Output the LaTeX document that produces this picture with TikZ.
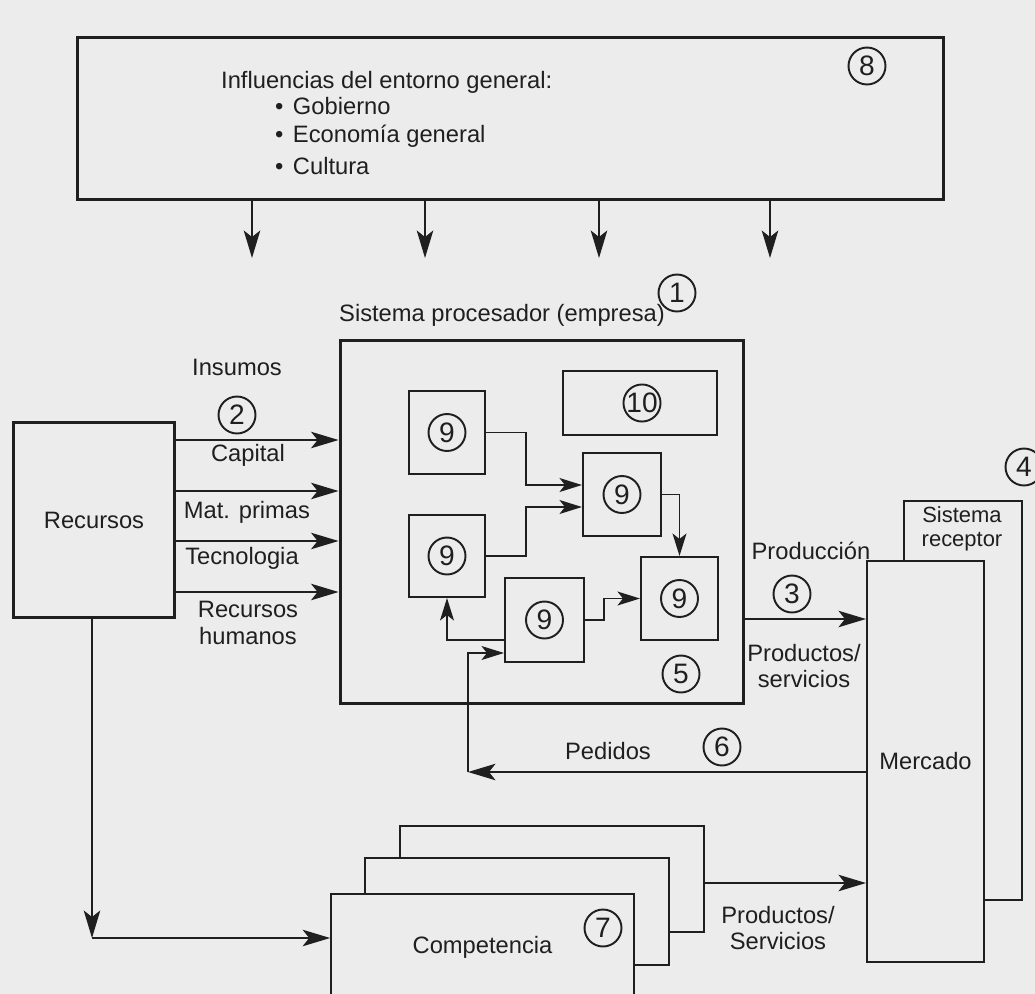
\documentclass[tikz,border=0pt]{standalone}
\usepackage{fontspec}
\setmainfont{Liberation Sans}
\usetikzlibrary{arrows.meta, calc}
\definecolor{paper}{gray}{0.925}
\definecolor{ink}{gray}{0.12}

\begin{document}
\begin{tikzpicture}[x=0.02cm, y=-0.02cm]
  \tikzset{
    every node/.style={font=\fontsize{13.5}{15}\selectfont, text=ink},
    bigbox/.style={draw=ink, line width=1.7pt, fill=paper, inner sep=0pt},
    subbox/.style={draw=ink, line width=1.2pt, fill=paper, inner sep=0pt},
    num/.style={circle, draw=ink, line width=1.1pt, fill=paper, minimum size=0.74cm, inner sep=0pt, font=\fontsize{16}{16}\selectfont},
    conn/.style={draw=ink, line width=0.9pt, -{Stealth[length=5.5mm, width=3.3mm, inset=1.3mm]}},
    inconn/.style={draw=ink, line width=0.8pt, -{Stealth[length=4.5mm, width=2.8mm, inset=1.1mm]}}
  }
  \useasboundingbox (0,0) rectangle (1035,994);
  \fill[paper] (0,0) rectangle (1035,994);

  % Entorno general
  \node[bigbox, minimum width=17.34cm, minimum height=3.26cm] (entorno) at (510.5,118.5) {};
  \node[anchor=west] (infl) at (215,82) {Influencias del entorno general:};
  \node[anchor=west] (gob) at (269,106) {\textbullet\hspace{0.4em}Gobierno};
  \node[anchor=west] (econ) at (269,136) {\textbullet\hspace{0.4em}Economía general};
  \node[anchor=west] (cult) at (269,166) {\textbullet\hspace{0.4em}Cultura};
  \node[num] (n8) at (867,66) {8};

  % Sistema procesador
  \node (sptitle) at (502,315) {Sistema procesador (empresa)};
  \node[num] (n1) at (677,293) {1};
  \node[bigbox, minimum width=8.08cm, minimum height=7.28cm] (proc) at (542,522) {};
  \node[subbox, minimum width=1.52cm, minimum height=1.66cm] (s9a) at (447,432.5) {};
  \node[subbox, minimum width=1.52cm, minimum height=1.64cm] (s9b) at (447,556) {};
  \node[subbox, minimum width=1.56cm, minimum height=1.66cm] (s9c) at (622,494.5) {};
  \node[subbox, minimum width=1.54cm, minimum height=1.66cm] (s9d) at (679.5,598.5) {};
  \node[subbox, minimum width=1.58cm, minimum height=1.68cm] (s9e) at (544.5,620) {};
  \foreach \b in {s9a,s9b,s9c,s9d,s9e}
    \node[num] (\b n) at (\b) {9};
  \node[subbox, minimum width=3.08cm, minimum height=1.28cm] (s10) at (640,403) {};
  \node[num] (s10n) at (642,403) {10};
  \node[num] (n5) at (681,674) {5};

  % Recursos
  \node[bigbox, minimum width=3.24cm, minimum height=3.92cm] (recursos) at (94,520) {Recursos};
  \node (insumos) at (237,367) {Insumos};
  \node[num] (n2) at (237,415) {2};
  \node (capital) at (248,455) {Capital};
  \node (matprim) at (247,512) {Mat. primas};
  \node (tecno) at (242,558) {Tecnologia};
  \node[align=center] (rrhh) at (248,623) {Recursos\\humanos};

  % Sistema receptor / mercado
  \node[subbox, minimum width=2.36cm, minimum height=7.98cm] (receptor) at (963,700.5) {};
  \node[align=center, font=\fontsize{12.5}{13.6}\selectfont] (receptorlbl) at (962,529) {Sistema\\receptor};
  \node[num] (n4) at (1024,467) {4};
  \node[subbox, minimum width=2.34cm, minimum height=8.02cm] (mercado) at (925.5,761.5) {Mercado};
  \node (produccion) at (811,551) {Producción};
  \node[num] (n3) at (792,594) {3};
  \node[align=center] (prodserv) at (804,666) {Productos/\\servicios};
  \node (pedidos) at (608,751) {Pedidos};
  \node[num] (n6) at (722,747) {6};

  % Competencia
  \node[subbox, line width=1pt, minimum width=6.08cm, minimum height=2.12cm] (compback) at (552,879) {};
  \node[subbox, line width=1pt, minimum width=6.08cm, minimum height=2.14cm] (compmid) at (517,911.5) {};
  \node[subbox, line width=1pt, minimum width=6.06cm, minimum height=2.12cm] (compfront) at (482.5,947) {Competencia};
  \node[num] (n7) at (603,928) {7};
  \node[align=center] (prodserv2) at (778,928) {Productos/\\Servicios};

  % conectores
  \foreach \x [count=\i] in {252,425,599,770} {
    \coordinate (t\i) at (\x,258);
    \draw[conn] (entorno.south -| t\i) -- (t\i);
  }
  \foreach \y in {440,491,541,592}
    \draw[conn] (recursos.east |- 0,\y) -- (proc.west |- 0,\y);
  \draw[inconn] (s9a.east) -- ++(40,0) |- (s9c.west |- 0,485);
  \draw[inconn] (s9b.east) -- ++(40,0) |- (s9c.west |- 0,507);
  \draw[inconn] (s9c.east) -| (s9d.north);
  \draw[inconn] (s9e.east) -- ++(19,0) |- (s9d.west);
  \draw[inconn] (s9e.west |- 0,640) -| (s9b.south);
  \draw[conn] (proc.east |- 0,619) -- (mercado.west |- 0,619);
  \coordinate (ped) at (468,772);
  \draw[conn] (mercado.west |- ped) -- (ped);
  \draw[inconn] (ped) |- (s9e.west |- 0,653);
  \coordinate (rc) at (92,938);
  \draw[conn] (recursos.south -| rc) -- (rc);
  \draw[conn] (rc) -- (compfront.west |- rc);
  \draw[conn] (compback.east |- 0,883) -- (mercado.west |- 0,883);
\end{tikzpicture}
\end{document}
